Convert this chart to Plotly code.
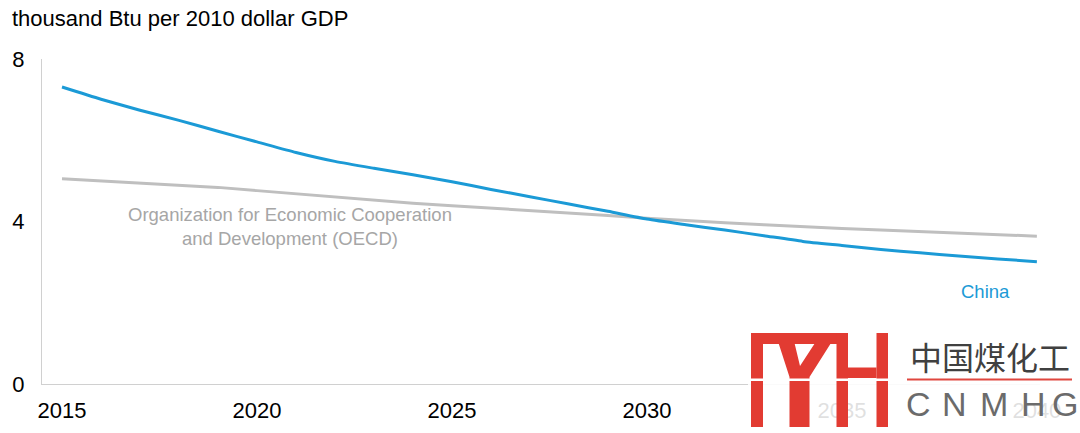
import plotly.graph_objects as go

years = list(range(2015, 2041))
china = [7.31, 7.01, 6.74, 6.49, 6.22, 5.96, 5.70, 5.48, 5.31, 5.15, 4.98,
         4.79, 4.61, 4.43, 4.25, 4.06, 3.92, 3.79, 3.65, 3.51, 3.41, 3.31,
         3.23, 3.15, 3.08, 3.01]
oecd = [5.05, 5.00, 4.95, 4.90, 4.84, 4.76, 4.68, 4.60, 4.52, 4.45, 4.39,
        4.33, 4.28, 4.21, 4.15, 4.08, 4.02, 3.97, 3.92, 3.87, 3.83, 3.79,
        3.75, 3.71, 3.67, 3.64]
x_ticks = [2015, 2020, 2025, 2030, 2035, 2040]
y_ticks = [0, 4, 8]
title_text = "thousand Btu per 2010 dollar GDP"
oecd_label = "Organization for Economic Cooperation<br>and Development (OECD)"
china_label = "China"

W, H = 1080, 433
ML, MR, MT, MB = 42, 40, 59, 49
PW, PH = W - ML - MR, H - MT - MB

def px(x):
    return (x - ML) / PW

def py(y):
    return (H - MB - y) / PH

FONT = "Liberation Sans, Arial, sans-serif"
BLUE = "#1b9ad6"
GRAY = "#bfbfbf"
RED = "#e23b32"

fig = go.Figure()
fig.add_trace(go.Scatter(x=years, y=oecd, mode="lines",
                         line=dict(color=GRAY, width=3), name="OECD"))
fig.add_trace(go.Scatter(x=years, y=china, mode="lines",
                         line=dict(color=BLUE, width=3, shape="spline", smoothing=0.6),
                         name="China"))

shapes = []
# watermark backdrop
shapes.append(dict(type="rect", xref="paper", yref="paper", layer="above",
                   x0=px(748), x1=px(1080), y0=py(328), y1=py(433),
                   fillcolor="rgba(255,255,255,0.88)", line=dict(width=0)))

def rect(x0, y0, x1, y1, color=RED):
    return dict(type="rect", xref="paper", yref="paper", layer="above",
                x0=px(x0), x1=px(x1), y0=py(y0), y1=py(y1),
                fillcolor=color, line=dict(width=0))

shapes += [
    rect(751, 333, 763, 427),    # left vertical
    rect(751, 333, 848, 344),    # top bar
    rect(836.5, 333, 848, 427),  # H left vertical
    rect(876.5, 333, 888, 427),  # H right vertical
    rect(848, 367.5, 876.5, 378),  # H crossbar
]
vpts = [(778.5, 343), (789.5, 377), (789.5, 427), (809.5, 427), (809.5, 377),
        (831, 343), (815, 343), (800, 366), (794.5, 343)]
path = "M " + " L ".join(f"{px(a):.5f},{py(b):.5f}" for a, b in vpts) + " Z"
shapes.append(dict(type="path", xref="paper", yref="paper", layer="above",
                   path=path, fillcolor=RED, line=dict(width=0)))
shapes.append(rect(749, 378.6, 890, 381, "white"))
# red underline of Chinese text
shapes.append(rect(907, 378.5, 1072, 380.5, "#e0473f"))

annotations = [
    dict(text=oecd_label, xref="paper", yref="paper", x=px(290), y=py(226),
         showarrow=False, font=dict(family=FONT, size=18.5, color="#a6a6a6"),
         align="center", xanchor="center", yanchor="middle"),
    dict(text=china_label, xref="paper", yref="paper", x=px(985), y=py(291),
         showarrow=False, font=dict(family=FONT, size=18.5, color=BLUE),
         xanchor="center", yanchor="middle"),
    dict(text="中国煤化工", xref="paper", yref="paper", x=px(990), y=py(356),
         showarrow=False, font=dict(family="Noto Sans CJK SC", size=32, color="#404040"),
         xanchor="center", yanchor="middle"),
]
for ch, cx in zip("CNMHG", [918, 954, 994, 1033, 1065]):
    annotations.append(dict(text=ch, xref="paper", yref="paper", x=px(cx), y=py(404),
                            showarrow=False,
                            font=dict(family=FONT, size=34, color="#6b6b6b"),
                            xanchor="center", yanchor="middle"))

fig.update_layout(
    width=W, height=H,
    margin=dict(l=ML, r=MR, t=MT, b=MB, autoexpand=False),
    paper_bgcolor="white", plot_bgcolor="white",
    showlegend=False,
    font=dict(family=FONT, size=22, color="#000000"),
    title=dict(text=title_text, xref="container", yref="container",
               x=12 / W, y=1 - 18 / H, xanchor="left", yanchor="middle",
               font=dict(family=FONT, size=22, color="#000000")),
    xaxis=dict(range=[2014.487, 2040.08], tickvals=x_ticks,
               ticktext=[str(t) for t in x_ticks], showgrid=False,
               zeroline=False, showline=True, linecolor="#d0d0d0", linewidth=1,
               ticks="", ticklabelstandoff=7, fixedrange=True, automargin=False),
    yaxis=dict(range=[0, 8], tickvals=y_ticks, showgrid=False, zeroline=False,
               showline=True, linecolor="#d0d0d0", linewidth=1, ticks="",
               ticklabelstandoff=12, fixedrange=True, automargin=False),
    shapes=shapes, annotations=annotations,
)

fig.write_html("out.html", config={"displayModeBar": False},
               post_script="document.body.style.margin='0';document.body.style.overflow='hidden';")
